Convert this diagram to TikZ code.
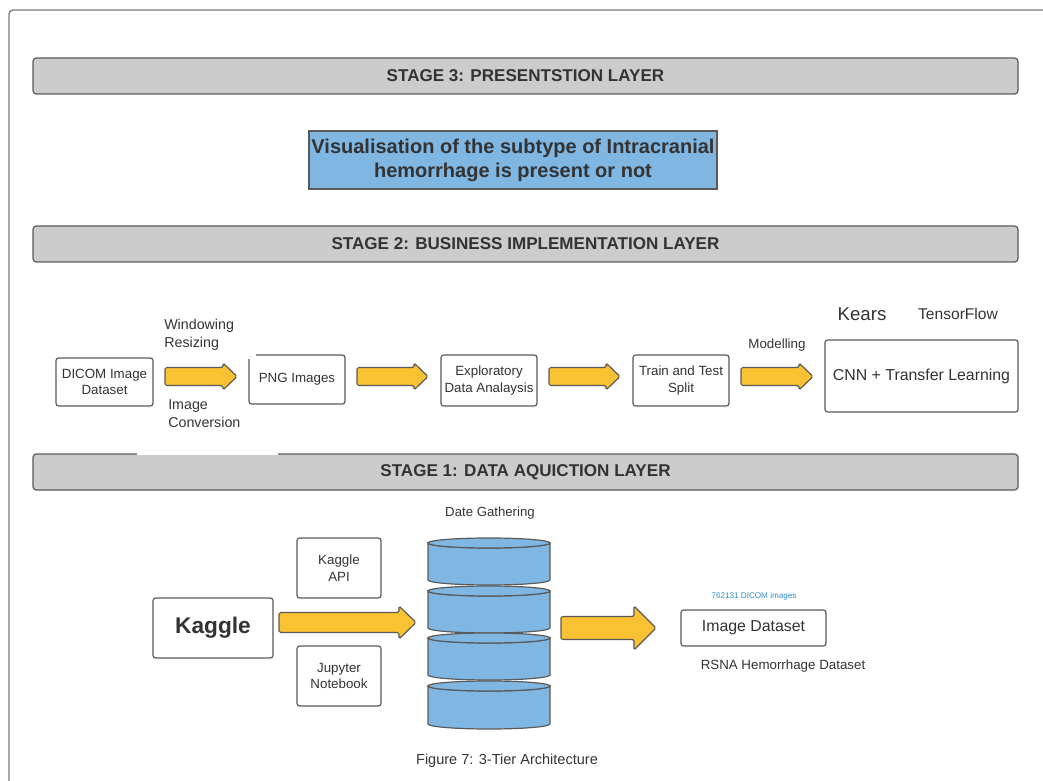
\documentclass[tikz,border=0pt]{standalone}
\usepackage{fontspec}
\setmainfont{Liberation Sans}
\definecolor{bord}{HTML}{5A5A5A}
\definecolor{txt}{HTML}{333333}
\definecolor{bargray}{HTML}{CCCCCC}
\definecolor{blu}{RGB}{127,182,226}
\definecolor{yel}{RGB}{250,193,50}
\definecolor{smallblue}{RGB}{46,139,201}
\tikzset{
  stagebar/.style={draw=bord, fill=bargray, line width=0.9pt, rounded corners=2.5pt, minimum width=738.75pt, minimum height=27pt, inner sep=0pt, text=txt, font=\bfseries\fontsize{12.8}{15}\selectfont},
  box/.style={draw=bord, fill=white, line width=0.9pt, rounded corners=2pt, inner sep=0pt, text=txt, align=center, font=\fontsize{10}{12.5}\selectfont},
  yarrow/.style={draw=bord, fill=yel, line width=0.9pt, rounded corners=1.2pt},
  lbl/.style={text=txt, inner sep=0pt},
  disk/.style={draw=bord, fill=blu, line width=0.9pt}
}
% block arrow: x1, x2, yc, shaft half, head half, head length
\newcommand\myblockarrow[6]{%
  \draw[yarrow] (#1,#3-#4) -- (#2-#6,#3-#4) -- (#2-#6,#3-#5) -- (#2,#3) -- (#2-#6,#3+#5) -- (#2-#6,#3+#4) -- (#1,#3+#4) -- cycle;}
\begin{document}
\begin{tikzpicture}[x=0.75pt,y=-0.75pt]
\useasboundingbox (0,0) rectangle (1043,781);
\clip (0,0) rectangle (1043,781);
% outer frame
\draw[draw=bord!80, line width=1pt, rounded corners=3pt] (9,10) rectangle (1070,800);

% stage bars
\node[stagebar] (s3) at (525.5,76) {STAGE 3: PRESENTSTION LAYER};
\node[stagebar] (s2) at (525.5,244) {STAGE 2: BUSINESS IMPLEMENTATION LAYER};
\node[stagebar] (s1) at (525.5,472) {STAGE 1: DATA AQUICTION LAYER};
\draw[white, line width=1.2pt] (137,454) -- (278,454);

% stage 3 content
\node[draw=bord, fill=blu, line width=0.9pt, minimum width=306pt, minimum height=43.5pt, inner sep=0pt, align=center, text=txt, font=\bfseries\fontsize{15}{18}\selectfont] (vis) at (513,160) {Visualisation of the subtype of Intracranial\\hemorrhage is present or not};

% stage 2 content
\node[box, minimum width=72.75pt, minimum height=36pt] (dicom) at (104.5,382) {DICOM Image\\Dataset};
\node[box, minimum width=72pt, minimum height=36.75pt] (png) at (297,379.5) {PNG Images};
\draw[white, line width=1.4pt] (249,355) -- (256,355);
\draw[white, line width=1.4pt] (249,355) -- (249,359);
\node[box, minimum width=72pt, minimum height=38.25pt] (eda) at (489,380.5) {Exploratory\\Data Analaysis};
\node[box, minimum width=72pt, minimum height=38.25pt] (tts) at (681,380.5) {Train and Test\\Split};
\node[box, minimum width=144.75pt, minimum height=54pt, font=\fontsize{11.9}{14}\selectfont] (cnn) at (921.5,376) {CNN + Transfer Learning};

\myblockarrow{165}{237}{376.5}{9}{13.5}{14}
\myblockarrow{357}{428}{376.5}{9}{13.5}{14}
\myblockarrow{549}{620}{376.5}{9}{13.5}{14}
\myblockarrow{741}{813}{376.5}{9}{13.5}{14}

\node[lbl, anchor=west, font=\fontsize{10.7}{12}\selectfont] (win) at (164,326) {Windowing};
\node[lbl, anchor=west, font=\fontsize{10.7}{12}\selectfont] (res) at (164,344) {Resizing};
\node[lbl, anchor=west, font=\fontsize{10.7}{12}\selectfont] (imc) at (168,406) {Image};
\node[lbl, anchor=west, font=\fontsize{10.7}{12}\selectfont] (imc2) at (168,422) {Conversion};
\node[lbl, font=\fontsize{10}{12}\selectfont] (mod) at (777,345) {Modelling};
\node[lbl, font=\fontsize{14}{16}\selectfont] (kears) at (862,314) {Kears};
\node[lbl, font=\fontsize{11.7}{13}\selectfont] (tf) at (958,314) {TensorFlow};

% stage 1 content
\node[lbl, font=\fontsize{9.9}{11}\selectfont] (dg) at (490,513) {Date Gathering};
\node[box, minimum width=63pt, minimum height=45pt] (api) at (339,568) {Kaggle\\API};
\node[box, minimum width=63pt, minimum height=45pt] (jup) at (339,676) {Jupyter\\Notebook};
\node[box, minimum width=90pt, minimum height=45pt, font=\bfseries\fontsize{17}{20}\selectfont] (kag) at (213,628) {Kaggle};
\myblockarrow{279}{416}{622.5}{10}{16.5}{17}

% database cylinders
\foreach \t/\b in {543/580, 591/628, 638/675, 686/724}{
  \path[disk] (428,\t) -- (428,\b) arc[start angle=180, end angle=0, x radius=61, y radius=5] -- (550,\t) arc[start angle=0, end angle=180, x radius=61, y radius=5] -- cycle;
  \draw[disk] (489,\t) ellipse[x radius=61, y radius=5];
}

\myblockarrow{561}{656}{628}{11.5}{22}{22}
\node[box, minimum width=108.75pt, minimum height=27pt, font=\fontsize{11.9}{14}\selectfont] (ids) at (753.5,628) {Image Dataset};
\node[lbl, text=smallblue, font=\fontsize{6.1}{7}\selectfont] (cnt) at (754,596) {762131 DICOM images};
\node[lbl, font=\fontsize{10}{12}\selectfont] (rsna) at (783,666) {RSNA Hemorrhage Dataset};

\node[lbl, font=\fontsize{10.9}{12}\selectfont] (cap) at (507,761) {Figure 7: 3-Tier Architecture};
\end{tikzpicture}
\end{document}
